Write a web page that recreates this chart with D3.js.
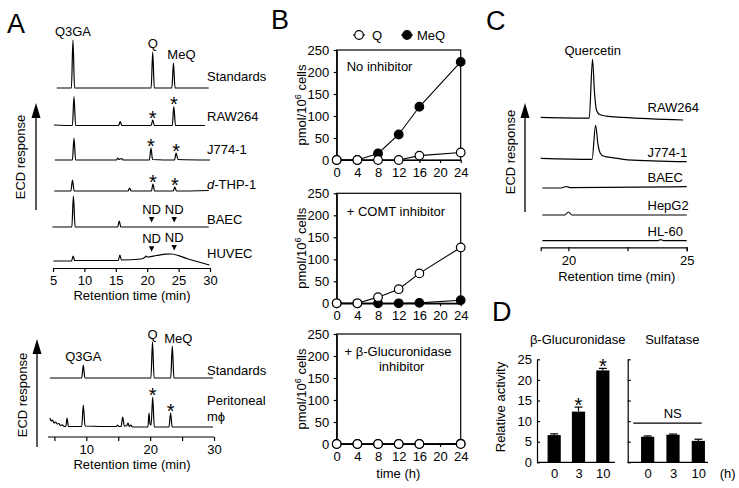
<!DOCTYPE html>
<html><head><meta charset="utf-8">
<script src="https://cdn.jsdelivr.net/npm/d3@7"></script>
<style>
body{margin:0;background:#fff;}
svg text{font-family:"Liberation Sans",Arial,Helvetica,sans-serif;fill:#000;}
</style></head><body>
<svg id="fig" width="739" height="488"></svg>
<script>
// ---------------- DATA ----------------
// Panel A (top): chromatograms, [retention time (min), response]
const aStandards = [[5.6,0],[7.93,0],[8.18,48],[8.43,0],[20.63,0],[20.88,36],[21.13,0],[23.93,0],[24.18,25],[24.43,0],[29.8,0]];
const aRAW264 = [[5.15,0.5],[8.09,0],[8.34,29],[8.6,0],[15.45,0],[15.7,4],[15.95,0],[20.63,0],[20.88,5.5],[21.13,0],[23.99,0],[24.24,19],[24.5,0],[29.2,0]];
const aJ774 = [[5.3,0],[8.09,0],[8.34,22],[8.6,0],[15.1,0],[15.3,2],[15.5,0.5],[15.9,1.5],[16.2,0],[20.35,0],[20.6,12],[20.85,0.5],[24.35,0],[24.6,7],[24.9,0.5],[30,0]];
const aTHP1 = [[5.2,0],[7.85,0],[8.1,11],[8.38,0],[16.95,0],[17.2,3],[17.45,0],[20.67,0],[20.92,7],[21.17,0],[24.15,0],[24.4,4],[24.65,0],[29.8,0.5]];
const aBAEC = [[4.9,0],[8.0,0],[8.25,31],[8.52,0],[15.3,0],[15.55,6],[15.8,0],[29.8,0]];
const aHUVEC = [[5.05,0],[7.95,0],[8.2,5],[8.45,0.5],[15.4,0.5],[15.65,6],[15.9,1],[19.0,2],[19.6,3.5],[19.8,5],[20.0,4],[21.5,5.5],[23.0,6.8],[23.8,7],[26.5,2],[29.9,-4]];
const aRowLabels = ["Standards","RAW264","J774-1","d-THP-1","BAEC","HUVEC"];
const aPeakNames = ["Q3GA","Q","MeQ"];
const aPeakTimes = [8.18,20.88,24.18];
const aStarTimes = {"RAW264":[20.88,24.24],"J774-1":[20.6,24.6],"d-THP-1":[20.92,24.4]};
const aNDTimes = [20.7,24.3];
const aTicks = [5,10,15,20,25,30];

// Panel A (bottom)
const a2Standards = [[4.3,0],[9.28,0],[9.53,13],[9.78,0],[20.12,0],[20.37,36],[20.62,0],[23.22,0],[23.47,32],[23.72,0],[29.85,0]];
const a2Peritoneal = [[4.3,9],[4.5,6],[4.7,7],[4.95,4],[5.2,5],[5.45,3],[5.7,3.5],[5.95,1.5],[6.2,2.2],[6.5,0.8],[6.8,0.5],[6.98,9],[7.2,0.5],[9.28,0.5],[9.53,22],[9.8,1],[14.7,0.5],[14.9,2],[15.1,0.5],[15.45,0.5],[15.7,10],[15.95,1],[16.3,1],[16.53,4],[16.75,0.5],[17.0,2],[17.2,0],[19.65,0],[19.82,14],[19.98,3],[20.15,2],[20.4,30],[20.65,0],[22.95,0],[23.2,14],[23.45,0],[29.85,0]];
const a2PeakTimes = [9.53,20.37,23.47];
const a2StarTimes = [20.4,23.2];
const a2Ticks = [5,10,15,20,25,30];

// Panel B: time course (pmol/10^6 cells)
const bTimes = [0,4,8,12,16,24];
const bNoInhQ   = [0,0,0,0,10,17];
const bNoInhMeQ = [0,0,15,58,121,223];
const bComtQ    = [0,0,14,32,68,127];
const bComtMeQ  = [0,0,0,0,1,7];
const bGlucQ    = [0,0,0,0,0,0];
const bGlucMeQ  = [0,0,0,0,0,1];
const bYTicks = [0,50,100,150,200,250];
const bXTicks = [0,4,8,12,16,20,24];

// Panel C: chromatograms around quercetin
const cRAW264 = [[18.83,0],[20.88,-0.8],[21.02,58],[21.1,26],[21.18,8],[21.3,3],[21.6,1.2],[22.3,0],[24.85,-2.7]];
const cJ774 = [[18.83,0],[21.0,-1],[21.15,33],[21.25,14],[21.35,5],[21.5,2],[21.9,0.5],[22.5,-1.5],[25,-3.4]];
const cBAEC = [[18.9,0],[19.7,0],[19.9,1.5],[20.1,0.3],[25,1.3]];
const cHepG2 = [[18.9,0],[19.85,0],[20.0,3],[20.15,0],[25,0]];
const cHL60 = [[18.9,0],[23.75,0],[23.9,1],[24.05,0],[25,0]];
const cRowLabels = ["RAW264","J774-1","BAEC","HepG2","HL-60"];
const cTicks = [20,22.5,25];

// Panel D: relative activity
const dHours = ["0","3","10"];
const dGlucMean = [6.6,12.3,22.3];
const dGlucErr  = [0.3,1.1,0.5];
const dGlucSig  = [false,true,true];
const dSulfMean = [6.2,6.7,5.2];
const dSulfErr  = [0.2,0.15,0.4];
const dYTicks = [0,5,10,15,20,25];

// ---------------- DRAWING ----------------
const svg = d3.select('#fig');
svg.append('rect').attr('width',739).attr('height',488).attr('fill','#fff');

function txt(g,x,y,s,o={}){
  const t=g.append('text').attr('x',x).attr('y',y).attr('font-size',o.size||13)
    .attr('text-anchor',o.anchor||'start');
  if(s!==null) t.text(s);
  if(o.rotate) t.attr('transform',`rotate(-90,${x},${y})`);
  if(o.weight) t.attr('font-weight',o.weight);
  return t;
}
function star(g,x,cy,size=20){ txt(g,x,cy+size*0.58,'*',{size:size,anchor:'middle'}); }
function arrow(g,x,yTip,yBot){
  g.append('line').attr('x1',x).attr('x2',x).attr('y1',yTip+12).attr('y2',yBot).attr('stroke','#000').attr('stroke-width',1.3);
  g.append('path').attr('d',`M${x},${yTip} L${x-4.5},${yTip+15} L${x+4.5},${yTip+15} Z`).attr('fill','#000');
}
function interp(data,t){
  for(let i=0;i<data.length-1;i++){
    if(t>=data[i][0]&&t<=data[i+1][0]){const f=(t-data[i][0])/(data[i+1][0]-data[i][0]);return data[i][1]+f*(data[i+1][1]-data[i][1]);}
  }
  return 0;
}
function peakTop(data,t){ let m=-1e9; data.forEach(d=>{if(Math.abs(d[0]-t)<0.12&&d[1]>m)m=d[1];}); return m; }
function styleAxis(g,size=13){
  g.selectAll('text').attr('font-size',size).attr('fill','#000').attr('font-family','"Liberation Sans",Arial,sans-serif');
  g.selectAll('path,line').attr('stroke','#000').attr('stroke-width',1.2);
}
function trace(g,data,x,base,sw=1.2){
  const y=d3.scaleLinear().domain([0,10]).range([base,base-10]);
  g.append('path').datum(data).attr('fill','none').attr('stroke','#000').attr('stroke-width',sw)
   .attr('stroke-linejoin','round')
   .attr('d',d3.line().x(d=>x(d[0])).y(d=>y(d[1])).curve(d3.curveMonotoneX));
  return y;
}
function tri(g,x,y){ g.append('path').attr('d',`M${x-2.7},${y} L${x+2.7},${y} L${x},${y+5.5} Z`).attr('fill','#000'); }

// Panel letters
[['A',7,33],['B',271,29],['C',486,30],['D',492,321]].forEach(([s,x,y])=>txt(svg,x,y,s,{size:27}));

// ---- Panel A top ----
const gA = svg.append('g');
const xA = d3.scaleLinear().domain([5,30]).range([53,210]);
const aData = [aStandards,aRAW264,aJ774,aTHP1,aBAEC,aHUVEC];
const aBases = [88,125.5,160,191,227,261];
const aLabelY = [81,121,154,189,224,258];
aData.forEach((d,i)=>{
  const y = trace(gA,d,xA,aBases[i]);
  const lab = aRowLabels[i];
  if(lab==='d-THP-1'){
    const t=txt(gA,207,aLabelY[i],null);
    t.append('tspan').attr('font-style','italic').text('d');
    t.append('tspan').text('-THP-1');
  } else txt(gA,207,aLabelY[i],lab);
  if(aStarTimes[lab]) aStarTimes[lab].forEach(t=>star(gA,xA(t),y(peakTop(d,t))-7));
  if(lab==='BAEC'||lab==='HUVEC'){
    aNDTimes.forEach(t=>{const yy=y(interp(d,t)); txt(gA,xA(t),yy-13,'ND',{anchor:'middle'}); tri(gA,xA(t),yy-10);});
  }
});
aPeakNames.forEach((n,i)=>{
  const top = aBases[0]-peakTop(aStandards,aPeakTimes[i]);
  const dx = n==='MeQ'?8:0;
  txt(gA,xA(aPeakTimes[i])+dx,top-4.5,n,{anchor:'middle'});
});
const gAx = gA.append('g').attr('transform','translate(0,268)')
  .call(d3.axisBottom(xA).tickValues(aTicks).tickSize(4).tickPadding(4).tickSizeOuter(0));
styleAxis(gAx);
txt(gA,132,300,'Retention time (min)',{anchor:'middle'});
arrow(gA,36,103,210);
txt(gA,24.5,157,'ECD response',{anchor:'middle',rotate:true});

// ---- Panel A bottom ----
const gA2 = svg.append('g');
const xA2 = d3.scaleLinear().domain([4,30]).range([48,214]);
const yStd2 = trace(gA2,a2Standards,xA2,378);
const yPer = trace(gA2,a2Peritoneal,xA2,427);
txt(gA2,207,374.5,'Standards');
txt(gA2,207,404.5,'Peritoneal');
txt(gA2,207,421,'mϕ');
a2StarTimes.forEach(t=>star(gA2,xA2(t),yPer(peakTop(a2Peritoneal,t))-7));
aPeakNames.forEach((n,i)=>{
  const t=a2PeakTimes[i];
  const top=yStd2(peakTop(a2Standards,t));
  const dx = n==='MeQ'?6:0;
  txt(gA2,xA2(t)+dx,n==='Q3GA'?361:(n==='Q'?339:343),n,{anchor:'middle'});
});
const gA2x = gA2.append('g').attr('transform','translate(0,437)')
  .call(d3.axisBottom(xA2).tickValues(a2Ticks).tickFormat(d=>d%10===0?d:'').tickSize(4).tickPadding(4).tickSizeOuter(0));
styleAxis(gA2x);
gA2x.select('.domain').attr('d','M48,0H214');
txt(gA2,132,469,'Retention time (min)',{anchor:'middle'});
arrow(gA2,37,339,447);
txt(gA2,26.5,395,'ECD response',{anchor:'middle',rotate:true});

// ---- Panel B ----
const gB = svg.append('g');
const xB = d3.scaleLinear().domain([0,24]).range([336.7,460.7]);
const bPanels = [
  {top:50, q:bNoInhQ, m:bNoInhMeQ},
  {top:193.3, q:bComtQ, m:bComtMeQ},
  {top:334, q:bGlucQ, m:bGlucMeQ}
];
bPanels.forEach((p,i)=>{
  const y=d3.scaleLinear().domain([0,250]).range([p.top+110,p.top]);
  const g=gB.append('g');
  const gy=g.append('g').attr('transform','translate(336.7,0)').call(d3.axisLeft(y).tickValues(bYTicks).tickSize(3).tickPadding(4.4).tickSizeOuter(0));
  styleAxis(gy);
  const gx=g.append('g').attr('transform',`translate(0,${p.top+110})`).call(d3.axisBottom(xB).tickValues(bXTicks).tickSize(3).tickPadding(4.8).tickSizeOuter(0));
  styleAxis(gx);
  g.append('rect').attr('x',336.7).attr('y',p.top).attr('width',124).attr('height',110).attr('fill','none').attr('stroke','#000').attr('stroke-width',1.2);
  const line=d3.line().x((d,j)=>xB(bTimes[j])).y(d=>y(d));
  [[p.m,'#000'],[p.q,'#fff']].forEach(([vals,fill])=>{
    g.append('path').datum(vals).attr('d',line).attr('fill','none').attr('stroke','#000').attr('stroke-width',1.1);
    g.selectAll(null).data(vals).enter().append('circle').attr('cx',(d,j)=>xB(bTimes[j])).attr('cy',d=>y(d)).attr('r',4.3)
      .attr('fill',fill).attr('stroke','#000').attr('stroke-width',1.2);
  });
  const lab=txt(g,306,p.top+55,null,{anchor:'middle',rotate:true});
  lab.append('tspan').text('pmol/10');
  lab.append('tspan').attr('font-size',9).attr('dy',-5).text('6');
  lab.append('tspan').attr('dy',5).text(' cells');
});
txt(gB,346.7,71,'No inhibitor');
txt(gB,346.7,216,'+ COMT inhibitor');
txt(gB,398,355.5,'+ β-Glucuronidase',{anchor:'middle'});
txt(gB,401.7,371,'inhibitor',{anchor:'middle'});
txt(gB,398.3,478,'time (h)',{anchor:'middle'});
// legend
[[353,365,359,'#fff',372,'Q'],[401,413,407,'#000',417,'MeQ']].forEach(([x1,x2,cx,f,tx,s])=>{
  gB.append('line').attr('x1',x1).attr('x2',x2).attr('y1',35).attr('y2',35).attr('stroke','#000').attr('stroke-width',1.1);
  gB.append('circle').attr('cx',cx).attr('cy',35).attr('r',4.3).attr('fill',f).attr('stroke','#000').attr('stroke-width',1.2);
  txt(gB,tx,39.5,s);
});

// ---- Panel C ----
const gC = svg.append('g');
const xC = d3.scaleLinear().domain([18.83,25]).range([540.7,686.7]);
const cData=[cRAW264,cJ774,cBAEC,cHepG2,cHL60];
const cBases=[117.3,158.3,188,215,240.7];
const cLabelY=[112,157,182,210,236];
cData.forEach((d,i)=>{ trace(gC,d,xC,cBases[i]); txt(gC,647.5,cLabelY[i],cRowLabels[i]); });
txt(gC,592.7,55,'Quercetin',{anchor:'middle'});
const gCx=gC.append('g').attr('transform','translate(0,247.3)')
  .call(d3.axisBottom(xC).tickValues(cTicks).tickFormat(d=>d%5===0?d:'').tickSize(4).tickPadding(4.8).tickSizeOuter(4));
styleAxis(gCx);
txt(gC,616.7,281,'Retention time (min)',{anchor:'middle'});
arrow(gC,525,103,212);
txt(gC,514.5,152,'ECD response',{anchor:'middle',rotate:true});

// ---- Panel D ----
const gD = svg.append('g');
const yD = d3.scaleLinear().domain([0,25]).range([462.3,359.3]);
const xD1 = d3.scalePoint().domain(dHours).range([542,615]).padding(0.5);
const xD2 = d3.scalePoint().domain(dHours).range([635,711]).padding(0.5);
function barPlot(x,axisX,axisEnd,mean,err,sig,labels){
  const gy=gD.append('g').attr('transform',`translate(${axisX},0)`)
    .call(d3.axisLeft(yD).tickValues(dYTicks).tickSize(-3).tickPadding(5).tickSizeOuter(0).tickFormat(labels?d3.format('d'):''));
  styleAxis(gy);
  const gx=gD.append('g').attr('transform','translate(0,462.3)').call(d3.axisBottom(x).tickSize(0).tickPadding(6));
  styleAxis(gx); gx.select('.domain').remove();
  gD.append('line').attr('x1',axisX).attr('x2',axisEnd).attr('y1',462.3).attr('y2',462.3).attr('stroke','#000').attr('stroke-width',1.2);
  dHours.forEach((h,i)=>{
    const cx=x(h);
    gD.append('line').attr('x1',cx).attr('x2',cx).attr('y1',yD(mean[i])).attr('y2',yD(mean[i]+err[i])).attr('stroke','#000').attr('stroke-width',1.2);
    gD.append('line').attr('x1',cx-4).attr('x2',cx+4).attr('y1',yD(mean[i]+err[i])).attr('y2',yD(mean[i]+err[i])).attr('stroke','#000').attr('stroke-width',1.2);
    gD.append('rect').attr('x',cx-6.6).attr('width',13.2).attr('y',yD(mean[i])).attr('height',yD(0)-yD(mean[i])).attr('fill','#000');
    if(sig&&sig[i]) star(gD,cx,yD(mean[i]+err[i])-7);
  });
}
barPlot(xD1,537,615,dGlucMean,dGlucErr,dGlucSig,true);
barPlot(xD2,627.7,708,dSulfMean,dSulfErr,null,false);
txt(gD,577.7,344,'β-Glucuronidase',{anchor:'middle'});
txt(gD,672.3,344,'Sulfatase',{anchor:'middle'});
gD.append('line').attr('x1',633.3).attr('x2',701.7).attr('y1',yD(9.5)).attr('y2',yD(9.5)).attr('stroke','#000').attr('stroke-width',1.1);
txt(gD,672.7,418,'NS',{anchor:'middle'});
txt(gD,727.7,477.5,'(h)',{anchor:'middle'});
txt(gD,505,407,'Relative activity',{anchor:'middle',rotate:true});
</script>
</body></html>
